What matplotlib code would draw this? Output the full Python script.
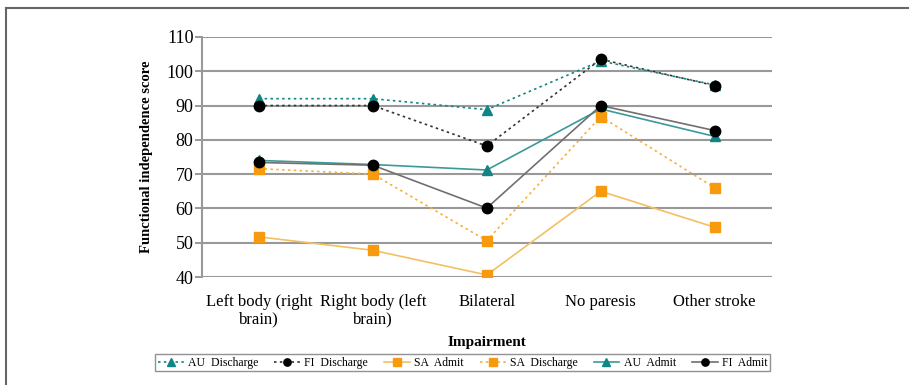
import matplotlib.pyplot as plt
from matplotlib.lines import Line2D

plt.rcParams['font.family'] = ['Liberation Serif', 'DejaVu Serif']

categories = ["Left body (right\nbrain)", "Right body (left\nbrain)", "Bilateral",
              "No paresis", "Other stroke"]

au_discharge = [92, 92, 88.8, 103, 96]
fi_discharge = [90, 90, 78.2, 103.5, 95.8]
sa_admit = [51.7, 47.8, 40.6, 65, 54.5]
sa_discharge = [71.6, 70, 50.6, 86.8, 66]
au_admit = [74, 72.8, 71.2, 89, 81]
fi_admit = [73.4, 72.6, 60.1, 90, 82.7]

teal = "#118585"
orange = "#f79a0e"
black = "#000000"

fig = plt.figure(figsize=(9.09, 3.85), dpi=100)
ax = fig.add_axes([0.222, 0.2805, 0.627, 0.6235])

x = range(len(categories))
ms = 7.5
# solid lines
ax.plot(x, sa_admit, color="#f2c062", lw=1.2, marker="s", ms=ms, mfc=orange, mec=orange,
        label="SA  Admit", zorder=3)
ax.plot(x, au_admit, color="#3a9a9a", lw=1.2, marker="^", ms=ms, mfc=teal, mec=teal,
        label="AU  Admit", zorder=3)
ax.plot(x, fi_admit, color="#707070", lw=1.2, marker="o", ms=ms, mfc=black, mec=black,
        label="FI  Admit", zorder=4)
# dotted lines
ax.plot(x, sa_discharge, color="#f7b040", lw=1.2, ls=(0, (1.5, 2)), marker="s", ms=ms,
        mfc=orange, mec=orange, label="SA  Discharge", zorder=3)
ax.plot(x, au_discharge, color=teal, lw=1.2, ls=(0, (1.5, 2)), marker="^", ms=ms,
        mfc=teal, mec=teal, label="AU  Discharge", zorder=3)
ax.plot(x, fi_discharge, color="#333333", lw=1.2, ls=(0, (1.5, 2)), marker="o", ms=ms,
        mfc=black, mec=black, label="FI  Discharge", zorder=4)

ax.set_xlim(-0.5, len(categories) - 0.5)
ax.set_ylim(40, 110)
ax.set_yticks(range(40, 111, 10))
ax.set_xticks(list(x))
ax.set_xticklabels(categories, fontsize=12, linespacing=1.15)
ax.tick_params(axis='y', labelsize=13, color="#888888", length=5, width=1.2, pad=1)
ax.tick_params(axis='x', length=0, pad=12)
ax.grid(axis='y', color="#999999", lw=1.5)
ax.set_axisbelow(True)
for s in ['top', 'right', 'bottom']:
    ax.spines[s].set_visible(False)
ax.spines['left'].set_color("#999999")
ax.spines['left'].set_linewidth(1.5)

ax.set_ylabel("Functional independence score", fontsize=10.5, fontweight='bold', labelpad=10)
ax.set_xlabel("Impairment", fontsize=11, fontweight='bold', labelpad=6)

handles, labels = ax.get_legend_handles_labels()
order = ["AU  Discharge", "FI  Discharge", "SA  Admit", "SA  Discharge", "AU  Admit", "FI  Admit"]
h = [handles[labels.index(o)] for o in order]
leg = fig.legend(h, order, loc='center', bbox_to_anchor=(0.509, 0.058), ncol=6,
                 fontsize=8.5, frameon=True, fancybox=False, edgecolor="#777777",
                 handlelength=2.2, handletextpad=0.35, columnspacing=1.35,
                 borderpad=0.2, markerscale=0.7)
leg.get_frame().set_linewidth(1.0)

# page border (left and top edges)
fig.add_artist(Line2D([0.0066, 0.0066], [0.0, 0.98], transform=fig.transFigure,
                      color="#666666", lw=1.5))
fig.add_artist(Line2D([0.0066, 1.0], [0.98, 0.98], transform=fig.transFigure,
                      color="#666666", lw=1.5))

fig.savefig("out.png", dpi=100)
